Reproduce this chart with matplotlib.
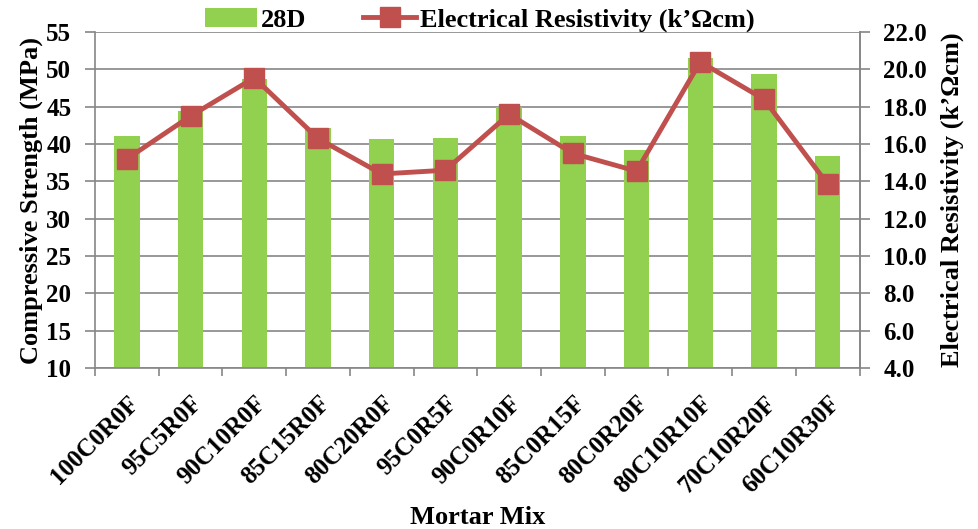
import matplotlib
matplotlib.use("Agg")
import matplotlib.pyplot as plt
import numpy as np

categories = ["100C0R0F", "95C5R0F", "90C10R0F", "85C15R0F", "80C20R0F", "95C0R5F",
              "90C0R10F", "85C0R15F", "80C0R20F", "80C10R10F", "70C10R20F", "60C10R30F"]
strength_28d = [41.1, 44.4, 48.7, 42.2, 40.7, 40.8, 45.0, 41.1, 39.2, 51.5, 49.4, 38.4]
resistivity = [15.2, 17.5, 19.55, 16.3, 14.4, 14.6, 17.6, 15.5, 14.55, 20.4, 18.4, 13.85]
left_ticks = list(range(10, 60, 5))
right_ticks = [4.0, 6.0, 8.0, 10.0, 12.0, 14.0, 16.0, 18.0, 20.0, 22.0]

plt.rcParams['font.family'] = ['Liberation Serif', 'DejaVu Serif']
plt.rcParams['font.weight'] = 'bold'

gray = '#868686'
green = '#92D050'
red = '#C0504D'
fs_tick = 18
fs_lab = 19

fig = plt.figure(figsize=(9.79, 5.29), dpi=100)
ax = fig.add_axes([0.097, 0.304, 0.781, 0.6355])
x = np.arange(len(categories))
ax.bar(x, strength_28d, width=0.4, color=green, zorder=2, label='28D')
ax.set_xlim(-0.5, len(categories) - 0.5)
ax.set_ylim(10, 55)
ax.set_yticks(left_ticks)
ax.set_yticklabels([str(t) for t in left_ticks], fontsize=fs_tick, fontweight='bold')
ax.yaxis.grid(True, color=gray, linewidth=1.2, zorder=0)
ax.set_axisbelow(True)
ax.set_xticks(x)
ax.set_xticklabels(categories, rotation=45, ha='right', va='top', rotation_mode='anchor',
                   fontsize=fs_tick, fontweight='bold')
ax.set_xticks(np.arange(-0.5, len(categories)), minor=True)
ax.tick_params(axis='x', which='major', length=0, pad=17)
ax.tick_params(axis='x', which='minor', length=6, color=gray, width=1.2)
ax.tick_params(axis='y', length=7, color=gray, width=1.2, direction='out', pad=10)
ax.spines['top'].set_visible(False)
for s in ['left', 'bottom', 'right']:
    ax.spines[s].set_color(gray)
    ax.spines[s].set_linewidth(1.2)
ax.set_ylabel('Compressive Strength (MPa)', fontsize=fs_lab, fontweight='bold', labelpad=2)
ax.set_xlabel('Mortar Mix', fontsize=fs_lab, fontweight='bold', labelpad=6)

ax2 = ax.twinx()
ax2.plot(x, resistivity, color=red, linewidth=3.5, marker='s', markersize=14,
         label='Electrical Resistivity (k’Ωcm)', zorder=3)
ax2.set_ylim(4, 22)
ax2.set_yticks(right_ticks)
ax2.set_yticklabels([f"{t:.1f}" for t in right_ticks], fontsize=fs_tick, fontweight='bold')
ax2.tick_params(axis='y', length=7, color=gray, width=1.2, direction='out', pad=10)
for s in ['top', 'left', 'bottom']:
    ax2.spines[s].set_visible(False)
ax2.spines['right'].set_color(gray)
ax2.spines['right'].set_linewidth(1.2)
ax2.set_ylabel('Electrical Resistivity (k’Ωcm)', fontsize=fs_lab, fontweight='bold', labelpad=10)

h1, l1 = ax.get_legend_handles_labels()
h2, l2 = ax2.get_legend_handles_labels()
fig.legend(h1 + h2, l1 + l2, loc='center', bbox_to_anchor=(0.49, 0.962), ncol=2,
           frameon=False, prop={'weight': 'bold', 'size': fs_lab},
           handlelength=2.0, columnspacing=2.15, handletextpad=0.15)

fig.savefig('out.png', dpi=100)
